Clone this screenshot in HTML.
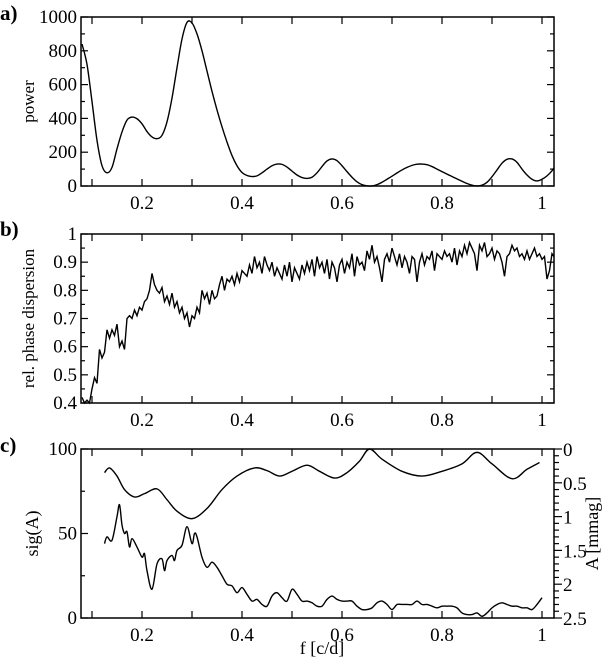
<!DOCTYPE html>
<html><head><meta charset="utf-8"><style>
body{margin:0;background:#fff}
svg text{font-family:"Liberation Serif","DejaVu Serif",serif;fill:#000}
</style></head><body>
<svg id="fig" width="606" height="661" xmlns="http://www.w3.org/2000/svg" font-family="Liberation Serif, serif"></svg>
<script>
// Panel a: power spectrum
const aFreq=[0.08,0.09,0.10,0.11,0.12,0.13,0.14,0.15,0.16,0.17,0.18,0.19,0.20,0.21,0.22,0.23,0.24,0.25,0.26,0.27,0.28,0.29,0.30,0.31,0.32,0.33,0.34,0.35,0.36,0.37,0.38,0.39,0.40,0.41,0.42,0.43,0.44,0.45,0.46,0.47,0.48,0.49,0.50,0.51,0.52,0.53,0.54,0.55,0.56,0.57,0.58,0.59,0.60,0.61,0.62,0.63,0.64,0.65,0.66,0.67,0.68,0.69,0.70,0.71,0.72,0.73,0.74,0.75,0.76,0.77,0.78,0.79,0.80,0.81,0.82,0.83,0.84,0.85,0.86,0.87,0.88,0.89,0.90,0.91,0.92,0.93,0.94,0.95,0.96,0.97,0.98,0.99,1.00,1.01,1.02,1.024];
const aPower=[840,720,500,270,120,78,110,220,320,390,408,398,368,322,290,280,300,380,520,700,870,968,965,900,800,680,560,450,350,260,180,120,80,62,56,60,78,100,120,130,128,112,88,65,50,45,52,78,115,148,160,150,120,85,52,25,8,1,0,8,22,40,58,77,95,110,122,129,130,126,115,100,85,70,56,42,28,15,5,0,5,22,55,95,135,158,160,140,100,65,40,30,40,60,90,108];
const aYTicks=[0,200,400,600,800,1000];
// Panel b: relative phase dispersion
const bFreq=[0.08,0.085,0.09,0.095,0.10,0.105,0.11,0.115,0.12,0.125,0.13,0.135,0.14,0.145,0.15,0.155,0.16,0.165,0.17,0.175,0.18,0.185,0.19,0.195,0.20,0.205,0.21,0.215,0.22,0.225,0.23,0.235,0.24,0.245,0.25,0.255,0.26,0.265,0.27,0.275,0.28,0.285,0.29,0.295,0.30,0.305,0.31,0.315,0.32,0.325,0.33,0.335,0.34,0.345,0.35,0.355,0.36,0.365,0.37,0.375,0.38,0.385,0.39,0.395,0.40,0.405,0.41,0.415,0.42,0.425,0.43,0.435,0.44,0.445,0.45,0.455,0.46,0.465,0.47,0.475,0.48,0.485,0.49,0.495,0.50,0.505,0.51,0.515,0.52,0.525,0.53,0.535,0.54,0.545,0.55,0.555,0.56,0.565,0.57,0.575,0.58,0.585,0.59,0.595,0.60,0.605,0.61,0.615,0.62,0.625,0.63,0.635,0.64,0.645,0.65,0.655,0.66,0.665,0.67,0.675,0.68,0.685,0.69,0.695,0.70,0.705,0.71,0.715,0.72,0.725,0.73,0.735,0.74,0.745,0.75,0.755,0.76,0.765,0.77,0.775,0.78,0.785,0.79,0.795,0.80,0.805,0.81,0.815,0.82,0.825,0.83,0.835,0.84,0.845,0.85,0.855,0.86,0.865,0.87,0.875,0.88,0.885,0.89,0.895,0.90,0.905,0.91,0.915,0.92,0.925,0.93,0.935,0.94,0.945,0.95,0.955,0.96,0.965,0.97,0.975,0.98,0.985,0.99,0.995,1.00,1.005,1.01,1.015,1.02,1.024];
const bDisp=[0.42,0.40,0.41,0.40,0.45,0.49,0.47,0.59,0.56,0.58,0.66,0.63,0.66,0.64,0.68,0.60,0.62,0.59,0.70,0.71,0.70,0.73,0.71,0.74,0.73,0.76,0.77,0.80,0.86,0.82,0.80,0.79,0.81,0.76,0.78,0.75,0.79,0.74,0.76,0.72,0.74,0.70,0.72,0.67,0.71,0.70,0.74,0.72,0.80,0.77,0.79,0.75,0.80,0.77,0.78,0.82,0.85,0.80,0.84,0.83,0.85,0.82,0.86,0.83,0.87,0.86,0.85,0.89,0.86,0.92,0.88,0.90,0.86,0.92,0.89,0.87,0.90,0.85,0.88,0.86,0.84,0.89,0.85,0.90,0.83,0.88,0.86,0.84,0.89,0.86,0.90,0.87,0.91,0.85,0.92,0.88,0.90,0.86,0.91,0.84,0.90,0.88,0.83,0.89,0.91,0.86,0.90,0.88,0.93,0.85,0.92,0.89,0.90,0.87,0.94,0.91,0.96,0.90,0.92,0.88,0.83,0.91,0.93,0.90,0.95,0.92,0.89,0.93,0.88,0.92,0.90,0.86,0.92,0.91,0.83,0.90,0.93,0.89,0.92,0.91,0.94,0.87,0.93,0.92,0.91,0.94,0.92,0.93,0.90,0.95,0.89,0.94,0.92,0.96,0.93,0.97,0.95,0.93,0.87,0.96,0.94,0.97,0.92,0.93,0.95,0.91,0.94,0.93,0.90,0.85,0.92,0.93,0.96,0.94,0.95,0.92,0.93,0.91,0.94,0.91,0.93,0.95,0.92,0.93,0.91,0.92,0.84,0.87,0.93,0.92];
const bYTicks=[0.4,0.5,0.6,0.7,0.8,0.9,1];
// Panel c: amplitude (right axis) and significance (left axis)
const cAmpFreq=[0.125,0.135,0.15,0.165,0.185,0.205,0.23,0.25,0.27,0.30,0.33,0.36,0.39,0.425,0.45,0.475,0.50,0.53,0.555,0.585,0.61,0.635,0.655,0.68,0.72,0.76,0.80,0.84,0.87,0.90,0.94,0.97,0.995];
const cAmp=[0.35,0.28,0.40,0.60,0.71,0.66,0.59,0.75,0.92,1.03,0.88,0.60,0.40,0.28,0.32,0.40,0.33,0.24,0.33,0.43,0.35,0.18,0.0,0.15,0.33,0.40,0.33,0.22,0.05,0.22,0.44,0.30,0.20];
const cSigFreq=[0.125,0.13,0.14,0.15,0.155,0.16,0.165,0.17,0.175,0.18,0.19,0.20,0.205,0.21,0.22,0.23,0.24,0.245,0.25,0.26,0.265,0.27,0.28,0.29,0.30,0.305,0.31,0.32,0.33,0.34,0.35,0.36,0.37,0.38,0.39,0.40,0.41,0.42,0.43,0.44,0.45,0.46,0.47,0.48,0.49,0.50,0.51,0.52,0.53,0.54,0.55,0.56,0.57,0.58,0.59,0.60,0.61,0.62,0.63,0.64,0.65,0.66,0.67,0.68,0.69,0.70,0.71,0.72,0.73,0.74,0.75,0.76,0.77,0.78,0.79,0.80,0.81,0.82,0.83,0.84,0.85,0.86,0.87,0.88,0.89,0.90,0.91,0.92,0.93,0.94,0.95,0.96,0.97,0.98,0.99,1.0];
const cSig=[44,48,46,60,67,55,50,51,42,47,42,36,38,28,17,32,35,28,34,37,34,40,43,54,44,50,48,36,30,33,30,25,20,19,15,18,14,10,11,8,7,13,15,12,10,17,14,10,10,9,7,7,11,13,11,10,10,10,7,5,5,6,9,10,8,5,8,8,8,8,10,8,8,7,6,7,7,7,6,3,2,2,3,1,3,6,8,9,8,7,7,6,6,5,8,12];
const cLeftTicks=[0,50,100];
const cRightTicks=[0,0.5,1,1.5,2,2.5];
const xTickLabels=[0.2,0.4,0.6,0.8,1];

const NS="http://www.w3.org/2000/svg";
const svg=document.getElementById('fig');
const L=81,R=554;
const FONT='Liberation Serif, DejaVu Serif, serif';
function X(f){return 142+(f-0.2)*500;}
function mk(tag,attrs,parent){const e=document.createElementNS(NS,tag);for(const k in attrs)e.setAttribute(k,attrs[k]);(parent||svg).appendChild(e);return e;}
function text(s,x,y,anchor,size,parent,extra){const t=mk('text',Object.assign({x:x,y:y,'text-anchor':anchor,'font-size':size,'font-family':FONT},extra||{}),parent);t.textContent=s;return t;}
function smooth(pts){let d='M'+pts[0][0].toFixed(2)+','+pts[0][1].toFixed(2);for(let i=0;i<pts.length-1;i++){const p0=pts[Math.max(0,i-1)],p1=pts[i],p2=pts[i+1],p3=pts[Math.min(pts.length-1,i+2)];const c1x=p1[0]+(p2[0]-p0[0])/6,c1y=p1[1]+(p2[1]-p0[1])/6,c2x=p2[0]-(p3[0]-p1[0])/6,c2y=p2[1]-(p3[1]-p1[1])/6;d+=' C'+c1x.toFixed(2)+','+c1y.toFixed(2)+' '+c2x.toFixed(2)+','+c2y.toFixed(2)+' '+p2[0].toFixed(2)+','+p2[1].toFixed(2);}return d;}
function line(pts){return 'M'+pts.map(p=>p[0].toFixed(2)+','+p[1].toFixed(2)).join(' L');}

function frame(g,top,bot){
  mk('rect',{x:L,y:top,width:R-L,height:bot-top,fill:'none',stroke:'#000','stroke-width':1.5},g);
  for(let f=0.1;f<=1.0001;f+=0.1){const x=X(f);mk('line',{x1:x,y1:bot,x2:x,y2:bot-7,stroke:'#000','stroke-width':1.2},g);mk('line',{x1:x,y1:top,x2:x,y2:top+7,stroke:'#000','stroke-width':1.2},g);}
  xTickLabels.forEach(v=>{const t=text(String(v),X(v),bot+23,'middle',19,g);});
}
function yTicks(g,top,bot,min,max,major,minorStep,both){
  const Y=v=>bot-(v-min)/(max-min)*(bot-top);
  for(let v=min;v<=max+1e-9;v+=minorStep){const y=Y(v);const isMaj=major.some(m=>Math.abs(m-v)<1e-6);const len=isMaj?7:4;
    mk('line',{x1:L,y1:y,x2:L+len,y2:y,stroke:'#000','stroke-width':1.2},g);
    if(both)mk('line',{x1:R,y1:y,x2:R-len,y2:y,stroke:'#000','stroke-width':1.2},g);}
  return Y;
}

// ----- Panel a -----
const ga=mk('g',{});
const aTop=17,aBot=186;
frame(ga,aTop,aBot);
const Ya=yTicks(ga,aTop,aBot,0,1000,aYTicks,100,true);
aYTicks.forEach(v=>{const t=text(String(v),L-4,Ya(v)+6,'end',19,ga);});
const ta=text('a)',0,20,'start',21,ga,{'font-weight':'bold'});
const ya=text('power',34,(aTop+aBot)/2,'middle',17,ga,{transform:'rotate(-90 34 '+((aTop+aBot)/2)+')'});
const pa=mk('path',{d:smooth(aFreq.map((f,i)=>[X(f),Ya(aPower[i])])),fill:'none',stroke:'#000','stroke-width':1.4},ga);


// ----- Panel b -----
const gb=mk('g',{});
const bTop=234,bBot=403;
frame(gb,bTop,bBot);
const Yb=yTicks(gb,bTop,bBot,0.4,1,bYTicks,0.05,true);
bYTicks.forEach(v=>{const t=text(String(v),L-4,Yb(v)+6,'end',19,gb);});
const tb=text('b)',0,236,'start',21,gb,{'font-weight':'bold'});
const yb=text('rel. phase dispersion',34,(bTop+bBot)/2,'middle',17,gb,{transform:'rotate(-90 34 '+((bTop+bBot)/2)+')'});
const bPts=[];for(let i=0;i<Math.min(bFreq.length,bDisp.length);i++)bPts.push([X(bFreq[i]),Yb(bDisp[i])]);
const pb=mk('path',{d:line(bPts),fill:'none',stroke:'#000','stroke-width':1.4},gb);


// ----- Panel c -----
const gc=mk('g',{});
const cTop=449,cBot=618;
frame(gc,cTop,cBot);
const Yc=yTicks(gc,cTop,cBot,0,100,cLeftTicks,25,false);
cLeftTicks.forEach(v=>{const t=text(String(v),L-4,Yc(v)+6,'end',19,gc);});
const YcR=v=>cTop+v/2.5*(cBot-cTop);
for(let k=0;k<=25;k++){const v=k*0.1;const y=YcR(v);const maj=k%5===0;mk('line',{x1:R,y1:y,x2:R+(maj?8:5),y2:y,stroke:'#000','stroke-width':1.2},gc);}
cRightTicks.forEach(v=>{const t=text(String(v),R+9,YcR(v)+7,'start',19,gc);});
const tc=text('c)',0,452,'start',21,gc,{'font-weight':'bold'});
const yc=text('sig(A)',38,(cTop+cBot)/2,'middle',18,gc,{transform:'rotate(-90 38 '+((cTop+cBot)/2)+')'});
const yr=text('A [mmag]',598,(cTop+cBot)/2,'middle',18,gc,{transform:'rotate(-90 598 '+((cTop+cBot)/2)+')'});
const xt=text('f [c/d]',X(0.56),654,'middle',18,gc);
const pc1=mk('path',{d:smooth(cAmpFreq.map((f,i)=>[X(f),YcR(cAmp[i])])),fill:'none',stroke:'#000','stroke-width':1.4},gc);

const pc2=mk('path',{d:smooth(cSigFreq.map((f,i)=>[X(f),Yc(cSig[i])])),fill:'none',stroke:'#000','stroke-width':1.4},gc);

</script>
</body></html>
